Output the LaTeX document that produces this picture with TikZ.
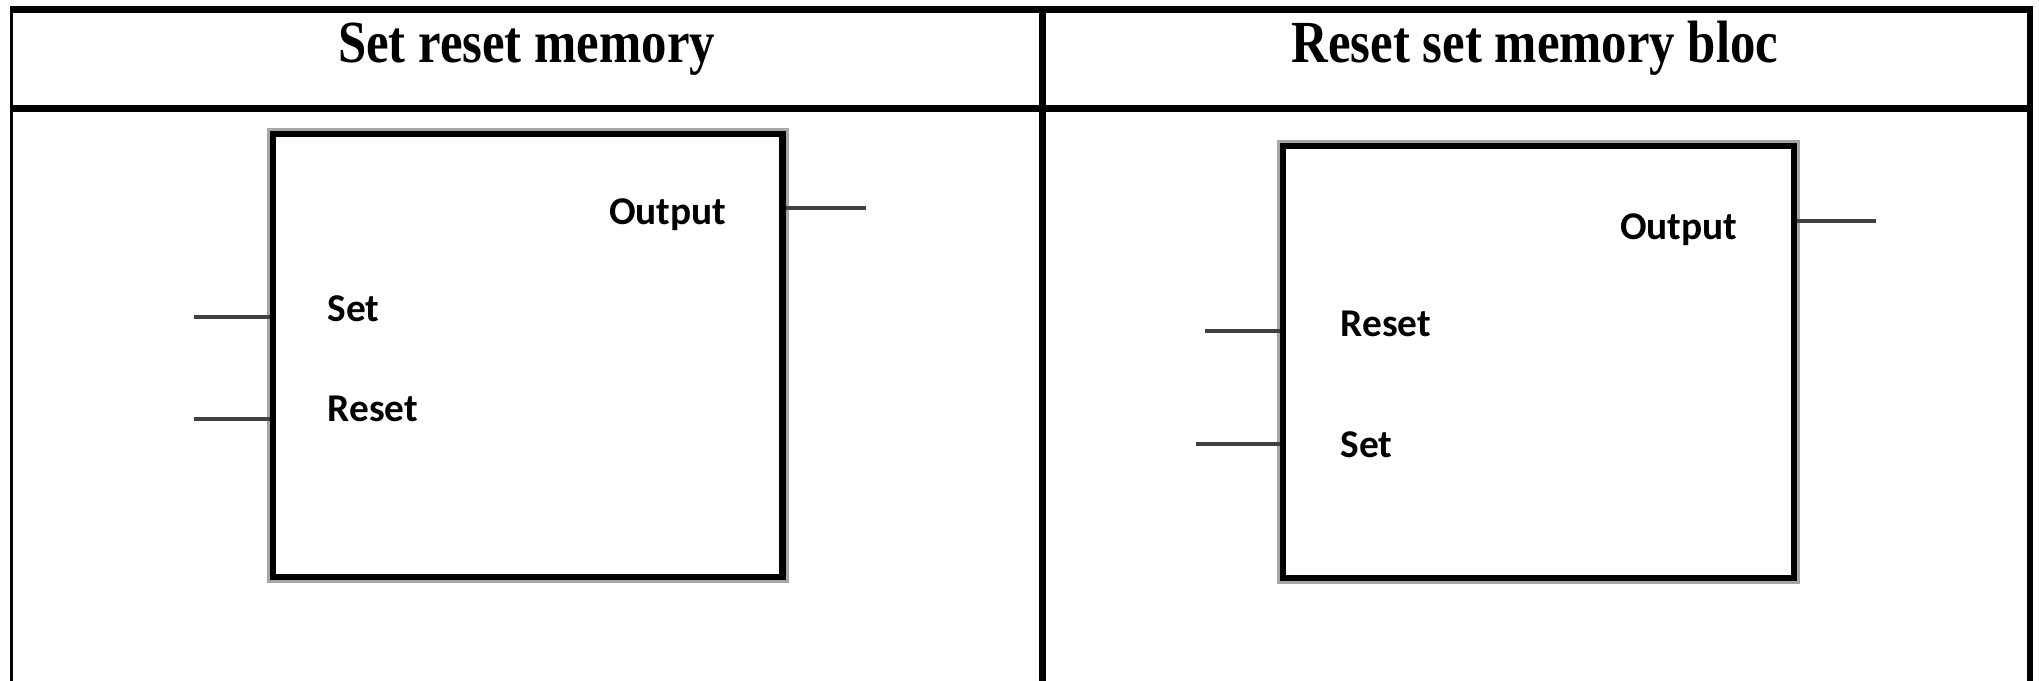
\documentclass[tikz,border=0pt]{standalone}
\usepackage{fontspec}
\setmainfont{Liberation Serif}
\newfontfamily\headfont{Liberation Serif}[FakeStretch=0.85]
\newfontfamily\pinfont{Carlito}
\usetikzlibrary{positioning}

\begin{document}
\begin{tikzpicture}[
    tableline/.style={line width=1.9pt},
    memblock/.style={rectangle, draw=black, line width=1.8pt, fill=white,
        preaction={draw=black!35, line width=3.4pt},
        minimum width=5.10cm, minimum height=4.43cm, inner sep=0pt},
    pinlabel/.style={font=\pinfont\bfseries\fontsize{11.2}{13}\selectfont, inner sep=0pt},
    heading/.style={font=\headfont\bfseries\fontsize{17}{20}\selectfont, inner sep=0pt},
    wire/.style={draw=black!75, line width=1.1pt}
]
\useasboundingbox (0,0) rectangle (20.39,-6.80);

% table frame
\draw[tableline] (0.10,-0.093) -- (20.32,-0.093);
\draw[tableline] (0.10,-1.083) -- (20.32,-1.083);
\draw[line width=1pt] (0.117,-0.06) -- (0.117,-6.90);
\draw[tableline] (10.423,-0.06) -- (10.423,-6.90);
\draw[line width=1.5pt] (20.30,-0.06) -- (20.30,-6.90);

\node[heading, anchor=base] (srhead) at (5.265,-0.627) {Set reset memory};
\node[heading, anchor=base] (rshead) at (15.35,-0.627) {Reset set memory bloc};

% set/reset block
\node[memblock, minimum width=5.095cm] (srbox) at (5.278,-3.554) {};
\node[pinlabel, anchor=base east] (srout) at (7.27,-2.245) {Output};
\node[pinlabel, anchor=base west] (srset) at (3.27,-3.21) {Set};
\node[pinlabel, anchor=base west] (srreset) at (3.27,-4.215) {Reset};

\coordinate (srsetin) at (1.94,-3.17);
\coordinate (srresetin) at (1.94,-4.19);
\coordinate (sroutend) at (8.66,-2.08);
\draw[wire] (srsetin) -- (srsetin -| srbox.west);
\draw[wire] (srresetin) -- (srresetin -| srbox.west);
\draw[wire] (sroutend -| srbox.east) -- (sroutend);

% reset/set block
\node[memblock, minimum width=5.11cm, minimum height=4.32cm] (rsbox) at (15.385,-3.62) {};
\node[pinlabel, anchor=base east] (rsout) at (17.38,-2.39) {Output};
\node[pinlabel, anchor=base west] (rsreset) at (13.40,-3.36) {Reset};
\node[pinlabel, anchor=base west] (rsset) at (13.40,-4.57) {Set};

\coordinate (rsresetin) at (12.05,-3.31);
\coordinate (rssetin) at (11.96,-4.44);
\coordinate (rsoutend) at (18.76,-2.21);
\draw[wire] (rsresetin) -- (rsresetin -| rsbox.west);
\draw[wire] (rssetin) -- (rssetin -| rsbox.west);
\draw[wire] (rsoutend -| rsbox.east) -- (rsoutend);
\end{tikzpicture}
\end{document}
